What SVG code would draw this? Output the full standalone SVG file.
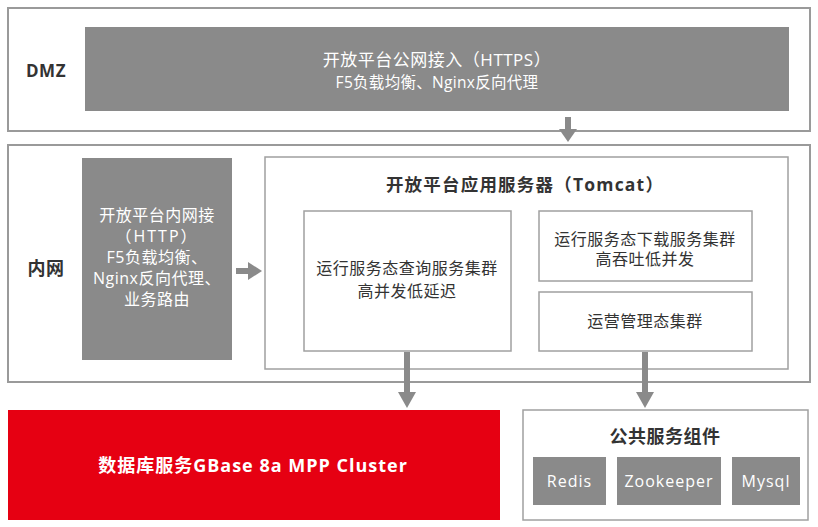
<svg xmlns="http://www.w3.org/2000/svg" width="818" height="527" viewBox="0 0 818 527">
<defs>
<style>
.frame{fill:#fff;stroke:#9a9a9a;stroke-width:2}
.inner{fill:#fff;stroke:#a0a0a0;stroke-width:1.5}
.gray{fill:#8a8a8a}
.red{fill:#e60012}
.t{font-family:"Open Sans","Noto Sans CJK SC",sans-serif;font-size:16px;text-anchor:middle;fill:#333;letter-spacing:0.5px}
.w{fill:#fff}
.b{font-weight:bold}
.shaft{stroke:#8a8a8a;stroke-width:6;fill:none}
.head{fill:#8a8a8a}
</style>
</defs>
<g id="dmz">
<rect class="frame" x="8" y="8" width="802" height="123"/>
<text class="t b" x="46" y="77" style="font-size:17px">DMZ</text>
<rect class="gray" x="85" y="27" width="704" height="84"/>
<text class="t w" x="437" y="66" style="font-size:17px">开放平台公网接入（HTTPS）</text>
<text class="t w" x="437" y="88" style="font-size:15.5px;letter-spacing:0.3px">F5负载均衡、Nginx反向代理</text>
</g>
<g id="intranet">
<rect class="frame" x="8" y="145" width="802" height="237"/>
<text class="t b" x="46" y="275" style="font-size:18px">内网</text>
</g>
<g id="gateway">
<rect class="gray" x="82" y="158" width="150" height="202"/>
<text class="t w" x="157" y="221">开放平台内网接</text>
<text class="t w" x="157" y="242" style="letter-spacing:2px">（HTTP）</text>
<text class="t w" x="157" y="263">F5负载均衡、</text>
<text class="t w" x="157" y="284">Nginx反向代理、</text>
<text class="t w" x="157" y="305">业务路由</text>
</g>
<g id="tomcat">
<rect class="inner" x="265" y="157" width="523" height="212"/>
<text class="t b" x="525" y="191" style="font-size:17.5px;letter-spacing:1.2px">开放平台应用服务器（Tomcat）</text>
</g>
<g id="query">
<rect class="inner" x="304" y="211" width="207" height="140"/>
<text class="t" x="407" y="274">运行服务态查询服务集群</text>
<text class="t" x="407" y="297">高并发低延迟</text>
</g>
<g id="download">
<rect class="inner" x="539" y="211" width="213" height="70"/>
<text class="t" x="645" y="245">运行服务态下载服务集群</text>
<text class="t" x="645" y="265">高吞吐低并发</text>
</g>
<g id="ops">
<rect class="inner" x="539" y="292" width="213" height="59"/>
<text class="t" x="645" y="327">运营管理态集群</text>
</g>
<g id="database">
<rect class="red" x="8" y="410" width="492" height="110"/>
<text class="t w b" x="253" y="472" style="font-size:18px;letter-spacing:1px">数据库服务GBase 8a MPP Cluster</text>
</g>
<g id="common">
<rect class="inner" x="523" y="410" width="285" height="110"/>
<text class="t b" x="665" y="443" style="font-size:18px">公共服务组件</text>
</g>
<g id="redis">
<rect class="gray" x="533" y="457" width="73" height="48"/>
<text class="t w" x="569.5" y="487" style="letter-spacing:1px">Redis</text>
</g>
<g id="zookeeper">
<rect class="gray" x="617" y="457" width="104" height="48"/>
<text class="t w" x="669" y="487" style="letter-spacing:1px">Zookeeper</text>
</g>
<g id="mysql">
<rect class="gray" x="732" y="457" width="68" height="48"/>
<text class="t w" x="766" y="487" style="letter-spacing:1px">Mysql</text>
</g>
<g id="connectors">
<line class="shaft" x1="568" y1="117" x2="568" y2="130"/>
<polygon class="head" points="559,129 577,129 568,142"/>
<line class="shaft" x1="236" y1="271" x2="250" y2="271"/>
<polygon class="head" points="248,262 248,280 262,271"/>
<line class="shaft" x1="407" y1="352" x2="407" y2="393"/>
<polygon class="head" points="398,392 416,392 407,408"/>
<line class="shaft" x1="645" y1="352" x2="645" y2="393"/>
<polygon class="head" points="636,392 654,392 645,408"/>
</g>
</svg>
